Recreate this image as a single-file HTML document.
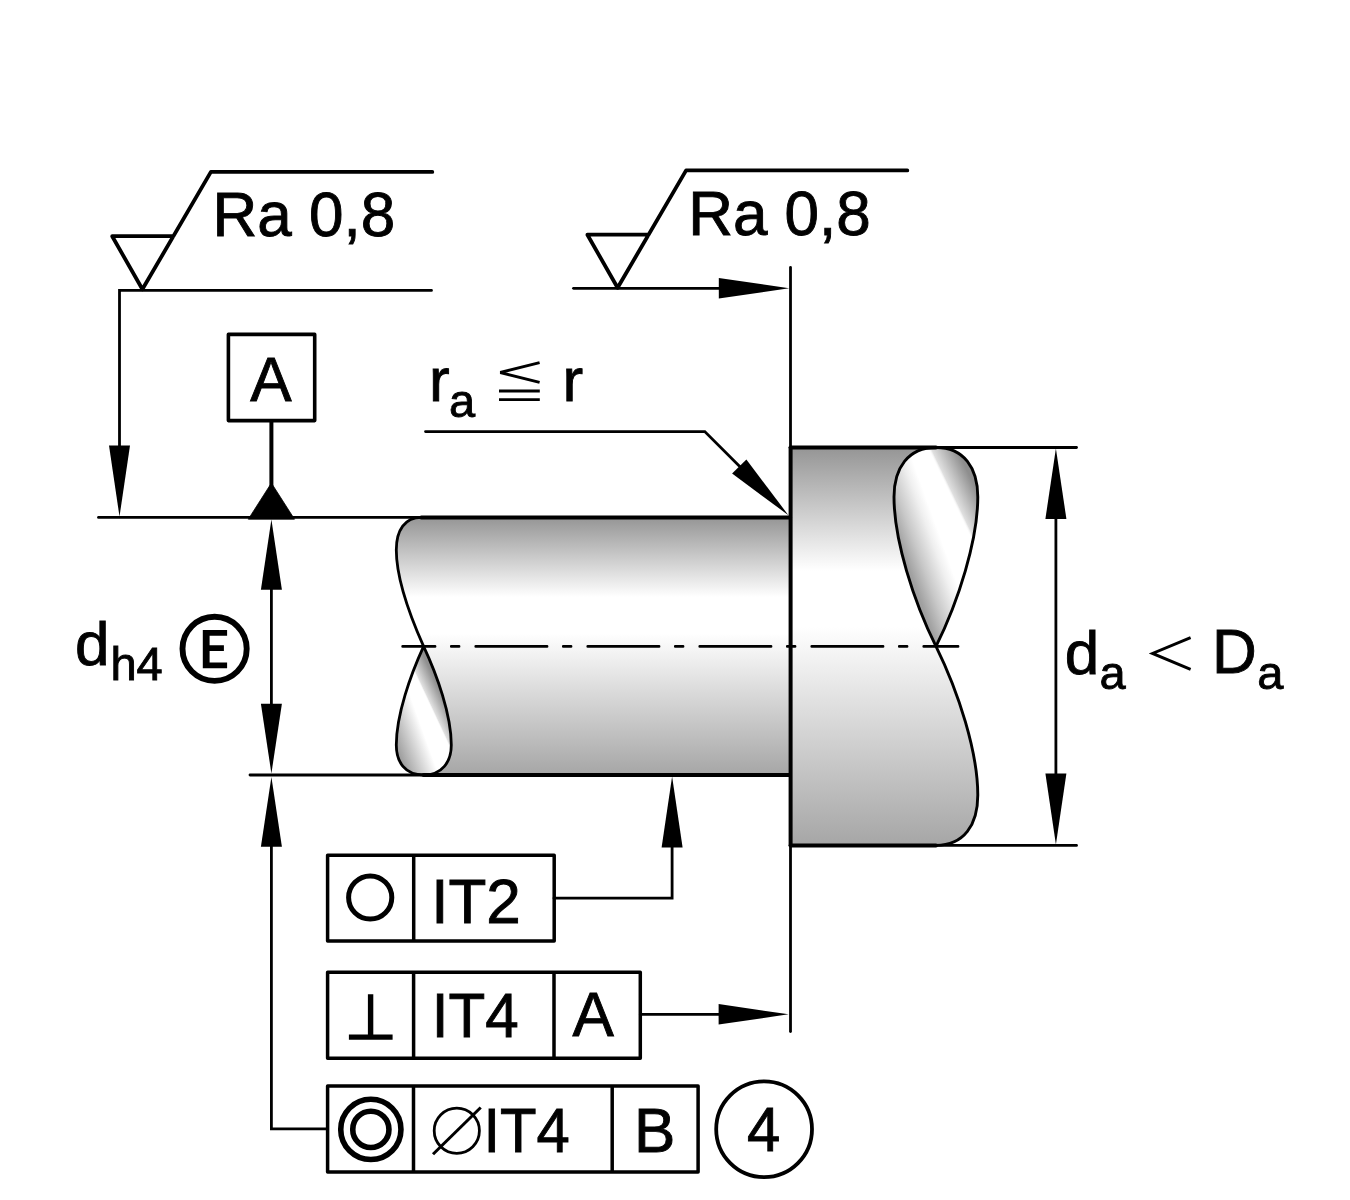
<!DOCTYPE html>
<html>
<head>
<meta charset="utf-8">
<style>
html,body{margin:0;padding:0;background:#fff;}
body{width:1350px;height:1200px;overflow:hidden;position:relative;}
svg{display:block;position:absolute;left:0;top:0;}
text{font-family:"Liberation Sans",sans-serif;fill:#000;stroke:#000;stroke-width:0.9px;}
</style>
</head>
<body>
<svg width="1350" height="1200" viewBox="0 0 1350 1200">
<defs>
<linearGradient id="gshaft" gradientUnits="userSpaceOnUse" x1="0" y1="517.3" x2="0" y2="775">
<stop offset="0" stop-color="#959595"/>
<stop offset="0.31" stop-color="#ffffff"/>
<stop offset="0.45" stop-color="#ffffff"/>
<stop offset="1" stop-color="#a6a6a6"/>
</linearGradient>
<linearGradient id="gshoulder" gradientUnits="userSpaceOnUse" x1="0" y1="447.5" x2="0" y2="845.4">
<stop offset="0" stop-color="#959595"/>
<stop offset="0.31" stop-color="#ffffff"/>
<stop offset="0.45" stop-color="#ffffff"/>
<stop offset="1" stop-color="#a6a6a6"/>
</linearGradient>
<linearGradient id="gtearL" gradientUnits="userSpaceOnUse" x1="391.3" y1="731.5" x2="419.5" y2="721.3">
<stop offset="0" stop-color="#a0a0a0"/>
<stop offset="1" stop-color="#ffffff"/>
</linearGradient>
<linearGradient id="gtearL2" gradientUnits="userSpaceOnUse" x1="431" y1="708.7" x2="445.1" y2="702.1">
<stop offset="0" stop-color="#ffffff" stop-opacity="0"/>
<stop offset="0.115" stop-color="#e0e0e0" stop-opacity="1"/>
<stop offset="1" stop-color="#909090" stop-opacity="1"/>
</linearGradient>
<linearGradient id="gtearR" gradientUnits="userSpaceOnUse" x1="897.9" y1="538" x2="935.8" y2="524.3">
<stop offset="0" stop-color="#a0a0a0"/>
<stop offset="0.352" stop-color="#c8c8c8"/>
<stop offset="0.775" stop-color="#f0f0f0"/>
<stop offset="1" stop-color="#ffffff"/>
</linearGradient>
<linearGradient id="gtearR2" gradientUnits="userSpaceOnUse" x1="960.9" y1="517.7" x2="984.3" y2="506.5">
<stop offset="0" stop-color="#ffffff" stop-opacity="0"/>
<stop offset="0.117" stop-color="#e0e0e0" stop-opacity="1"/>
<stop offset="1" stop-color="#8e8e8e" stop-opacity="1"/>
</linearGradient>
</defs>
<rect width="1350" height="1200" fill="#fff"/>

<!-- SHAFT fills -->
<path d="M421.3 517.4 L790.5 517.4 L790.5 775 L423.7 775 C442 775 451.3 762 451.3 745 C451.3 715 437 675 423.6 646.4 C410.5 617 396.3 580 396.3 550 C396.3 530 405 517.4 421.3 517.4 Z" fill="url(#gshaft)"/>
<path d="M423.6 646.4 C437 675 451.3 715 451.3 745 C451.3 762 442 775 423.7 775 C405 775 396.3 762 396.3 745 C396.3 715 410.5 675 423.6 646.4 Z" fill="url(#gtearL)"/>
<path d="M423.6 646.4 C437 675 451.3 715 451.3 745 C451.3 762 442 775 423.7 775 C405 775 396.3 762 396.3 745 C396.3 715 410.5 675 423.6 646.4 Z" fill="url(#gtearL2)"/>
<path d="M790.5 447.5 L936 447.5 C908 447.5 894 468 894 497 C894 540 913.5 601 936 646.3 C958.5 692 977.8 752 977.8 795 C977.8 825 964 845.4 936 845.4 L790.5 845.4 Z" fill="url(#gshoulder)"/>
<path d="M936 646.3 C913.5 601 894 540 894 497 C894 468 908 447.5 936 447.5 C964 447.5 977.8 468 977.8 497 C977.8 540 958.5 601 936 646.3 Z" fill="url(#gtearR)"/>
<path d="M936 646.3 C913.5 601 894 540 894 497 C894 468 908 447.5 936 447.5 C964 447.5 977.8 468 977.8 497 C977.8 540 958.5 601 936 646.3 Z" fill="url(#gtearR2)"/>

<!-- outlines -->
<g fill="none" stroke="#000" stroke-linejoin="round" stroke-linecap="round">
<path d="M421.3 517.4 C405 517.4 396.3 530 396.3 550 C396.3 580 410.5 617 423.6 646.4 C437 675 451.3 715 451.3 745 C451.3 762 442 775 423.7 775 C405 775 396.3 762 396.3 745 C396.3 715 410.5 675 423.6 646.4" stroke-width="2.8"/>
<path d="M936 845.4 C964 845.4 977.8 825 977.8 795 C977.8 752 958.5 692 936 646.3 C913.5 601 894 540 894 497 C894 468 908 447.5 936 447.5 C964 447.5 977.8 468 977.8 497 C977.8 540 958.5 601 936 646.3" stroke-width="2.9"/>
<path d="M421.3 517.4 L790 517.4" stroke-width="4"/>
<path d="M423.7 775 L790 775" stroke-width="4"/>
<path d="M790.6 447.5 L936 447.5" stroke-width="4"/>
<path d="M790.6 845.4 L936 845.4" stroke-width="4"/>
<path d="M790.6 447.5 L790.6 845.4" stroke-width="4"/>
</g>

<!-- thin lines -->
<g fill="none" stroke="#000" stroke-width="2.8" stroke-linecap="round" stroke-linejoin="miter">
<path d="M98.5 517.4 L422 517.4"/>
<path d="M250 775 L424 775"/>
<path d="M936 447.5 L1076.5 447.5"/>
<path d="M936 845.4 L1076.5 845.4"/>
<path d="M790.5 267.5 L790.5 1031.5"/>
<path d="M1055.9 470 L1055.9 823"/>
<path d="M271.4 540 L271.4 753"/>
<path d="M271.4 800 L271.4 1128.8 L327 1128.8"/>
<path d="M431.5 290.4 L119.5 290.4 L119.5 490"/>
<path d="M573.5 288.3 L765 288.3"/>
<path d="M425.5 431.6 L704.8 431.6 L768 494.8"/>
<path d="M554 898.2 L672.1 898.2 L672.1 800"/>
<path d="M640.5 1014.3 L765 1014.3"/>
</g>
<!-- centerline -->
<path d="M402.6 646.4 L958.1 646.4" fill="none" stroke="#000" stroke-width="2.6" stroke-linecap="round" stroke-dasharray="71.4 16.1 7.9 16.6" stroke-dashoffset="38.9"/>

<!-- arrows -->
<g fill="#000" stroke="none">
<polygon points="119.5,516.6 109,445.4 130,445.4"/>
<polygon points="271.4,519.5 260.9,589.8 281.9,589.8"/>
<polygon points="271.4,773.5 260.9,703.7 281.9,703.7"/>
<polygon points="271.4,777 260.9,846.8 281.9,846.8"/>
<polygon points="1055.9,448.4 1045.4,518.9 1066.4,518.9"/>
<polygon points="1055.9,844.6 1045.4,773.4 1066.4,773.4"/>
<polygon points="789.2,288.3 718.8,278 718.8,298.6"/>
<polygon points="788.6,1014.3 718.6,1004 718.6,1024.6"/>
<polygon points="672.1,776.6 661.6,847.4 682.6,847.4"/>
<polygon points="788.4,515.2 732.1,473.6 746.4,459.6"/>
<polygon points="271.4,483 248.3,519.2 294.5,519.2" stroke="#000" stroke-width="0.8" stroke-linejoin="round"/>
</g>

<!-- surface symbols -->
<g fill="none" stroke="#000" stroke-width="3.8" stroke-linejoin="round" stroke-linecap="round">
<path id="sym1" d="M173.3 236.2 L112.2 236.2 L142.4 289.3 L210.9 171.9 L432.3 171.9"/>
<path id="sym2" d="M648.5 234.7 L587.4 234.7 L617.6 287.8 L686.1 170.4 L907.3 170.4"/>
</g>

<!-- datum box A -->
<g fill="none" stroke="#000" stroke-linejoin="round">
<rect x="228.4" y="334.4" width="86.3" height="86.2" stroke-width="3.6"/>
<path d="M271.4 420.6 L271.4 488" stroke-width="4"/>
</g>

<!-- frames -->
<g fill="none" stroke="#000" stroke-width="3.5" stroke-linejoin="round">
<rect x="327.6" y="855.2" width="226.6" height="85.9"/>
<path d="M413.7 855.2 L413.7 941.1"/>
<rect x="327.6" y="972.2" width="312.7" height="86.1"/>
<path d="M413.6 972.2 L413.6 1058.3 M554 972.2 L554 1058.3"/>
<rect x="327.6" y="1086.1" width="370.5" height="85.9"/>
<path d="M413.5 1086.1 L413.5 1172 M612.2 1086.1 L612.2 1172"/>
</g>
<!-- symbols in frames -->
<g fill="none" stroke="#000">
<circle cx="370.2" cy="897.5" r="21.6" stroke-width="5"/>
<path d="M348.9 1037.1 L392.6 1037.1 M370.6 1037.1 L370.6 994.2" stroke-width="5.4"/>
<circle cx="370.85" cy="1129.4" r="30.1" stroke-width="5.6"/>
<circle cx="370.85" cy="1129.4" r="18.1" stroke-width="5.6"/>
<circle cx="456.8" cy="1130.7" r="22.6" stroke-width="2.8"/>
<path d="M433 1154.3 L480.7 1107.5" stroke-width="3" stroke-linecap="butt"/>
<circle cx="764.1" cy="1129.2" r="47.9" stroke-width="3.8"/>
<circle cx="214.6" cy="648.8" r="32.1" stroke-width="5.9"/>
</g>
<!-- E (bold, narrow) -->
<path d="M202.8 630 L227.1 630 L227.1 635.8 L209.6 635.8 L209.6 645.2 L223.9 645.2 L223.9 650.9 L209.6 650.9 L209.6 662.4 L227.1 662.4 L227.1 668.2 L202.8 668.2 Z" fill="#000"/>

<!-- thin math symbols -->
<g fill="none" stroke="#000" stroke-width="2.9" stroke-linecap="butt" stroke-linejoin="miter">
<path d="M1190.6 637.6 L1152.5 653.4 L1190.6 669.3"/>
<path d="M539.6 362.6 L500.3 372.5 L539.6 382.3" stroke-linejoin="bevel"/>
<path d="M499 391 L539.8 391 M499 399.6 L539.8 399.6"/>
</g>

<!-- TEXT -->
<g opacity="0.999">
<text id="ra1" transform="translate(212.60 236.10) scale(1 1.02)" font-size="62">Ra 0,8</text>
<text id="ra2" transform="translate(688.14 234.80) scale(1 1.02)" font-size="62">Ra 0,8</text>
<text id="boxA" transform="translate(250.13 400.90) scale(1 1.02)" font-size="62">A</text>
<text id="r1" x="429.09" y="400.80" font-size="62">r</text>
<text id="a1" x="449.02" y="416.50" font-size="47">a</text>
<text id="r2" x="562.38" y="400.80" font-size="62">r</text>
<text id="d1" x="75.01" y="664.50" font-size="62">d</text>
<text id="h4" x="110.45" y="679.80" font-size="47">h4</text>
<text id="d2" x="1064.78" y="673.80" font-size="62">d</text>
<text id="a2" x="1099.53" y="689.00" font-size="47">a</text>
<text id="D" transform="translate(1212.04 673.20) scale(1 1.02)" font-size="62">D</text>
<text id="a3" x="1257.30" y="689.00" font-size="47">a</text>
<text id="it2" transform="translate(431.27 922.90) scale(1 1.02)" font-size="62">IT2</text>
<text id="it4a" transform="translate(431.77 1037.00) scale(0.97 1.02)" font-size="62">IT4</text>
<text id="A2" transform="translate(572.54 1036.00) scale(1 1.02)" font-size="62">A</text>
<text id="it4b" transform="translate(483.45 1151.70) scale(0.965 1.02)" font-size="62">IT4</text>
<text id="B" transform="translate(633.93 1151.90) scale(1 1.02)" font-size="62">B</text>
<text id="n4" transform="translate(747.03 1150.90) scale(0.965 1.02)" font-size="62">4</text>
</g>
</svg>

</body>
</html>
